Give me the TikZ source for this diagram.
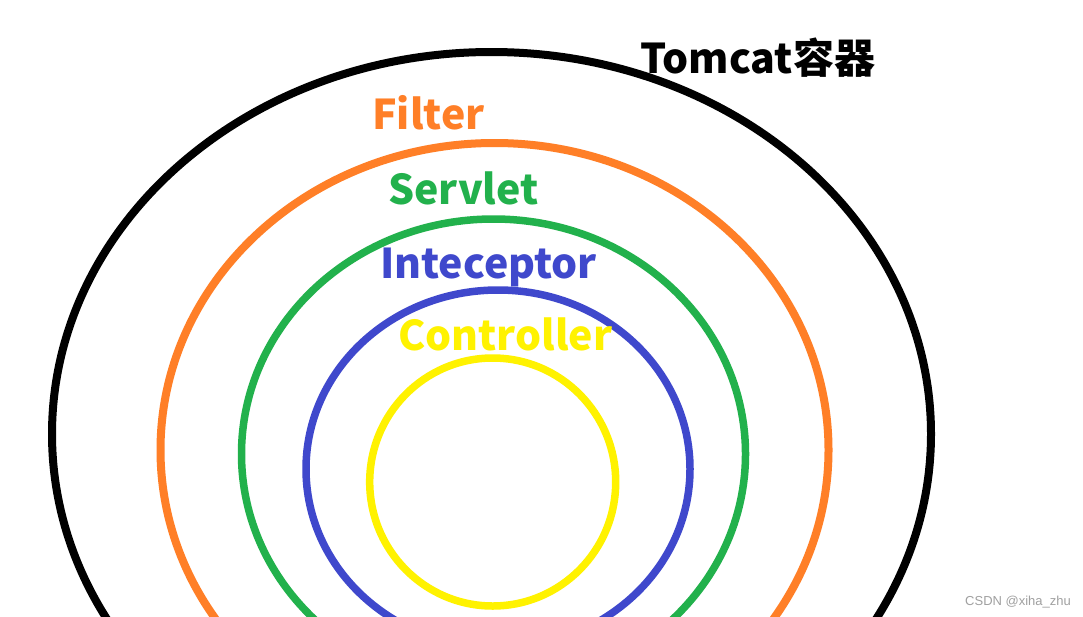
\documentclass[tikz,border=0pt]{standalone}
\usepackage{fontspec}
\newfontfamily\cjk{Noto Sans CJK SC}
\newfontfamily\wm{Liberation Sans}
\definecolor{porange}{HTML}{FF7F27}
\definecolor{pgreen}{HTML}{22B14C}
\definecolor{pblue}{HTML}{3F48CC}
\definecolor{pyellow}{HTML}{FFF200}
\definecolor{wmgray}{HTML}{A0A0A0}
\tikzset{
  ring/.style={line width=8pt},
  lab/.style={anchor=base west, inner sep=0pt, font=\cjk\bfseries\fontsize{41}{41}\selectfont},
}
\begin{document}
\begin{tikzpicture}[x=1pt,y=-1pt]
\useasboundingbox (0,0) rectangle (1083,616);
\fill[white] (0,0) rectangle (1083,616);
\begin{scope}
\clip (0,0) rectangle (1083,616);
\draw[ring, black] (491.5,434) ellipse [x radius=439.5pt, y radius=382pt];
\draw[ring, porange] (494.5,450) ellipse [x radius=334pt, y radius=307pt];
\draw[ring, pgreen, line width=7.5pt] (493.5,454) ellipse [x radius=252pt, y radius=235pt];
\draw[ring, pblue, line width=7.5pt] (498,469) ellipse [x radius=192pt, y radius=179pt];
\draw[ring, pyellow, line width=7.5pt] (492.7,482) ellipse [x radius=123pt, y radius=124pt];
\end{scope}
\node[lab, text=black] (tomcat) at (640,73) {Tomcat容器};
\node[lab, text=porange] (filter) at (372,129) {Filter};
\node[lab, text=pgreen] (servlet) at (388,204) {Servlet};
\node[lab, text=pblue] (intercep) at (380,278) {Inteceptor};
\node[lab, text=pyellow] (controller) at (398,350) {Controller};
\node[anchor=base west, inner sep=0pt, text=wmgray, font=\wm\fontsize{13}{13}\selectfont] (wm) at (965,605) {CSDN @xiha\_zhu};
\end{tikzpicture}
\end{document}
